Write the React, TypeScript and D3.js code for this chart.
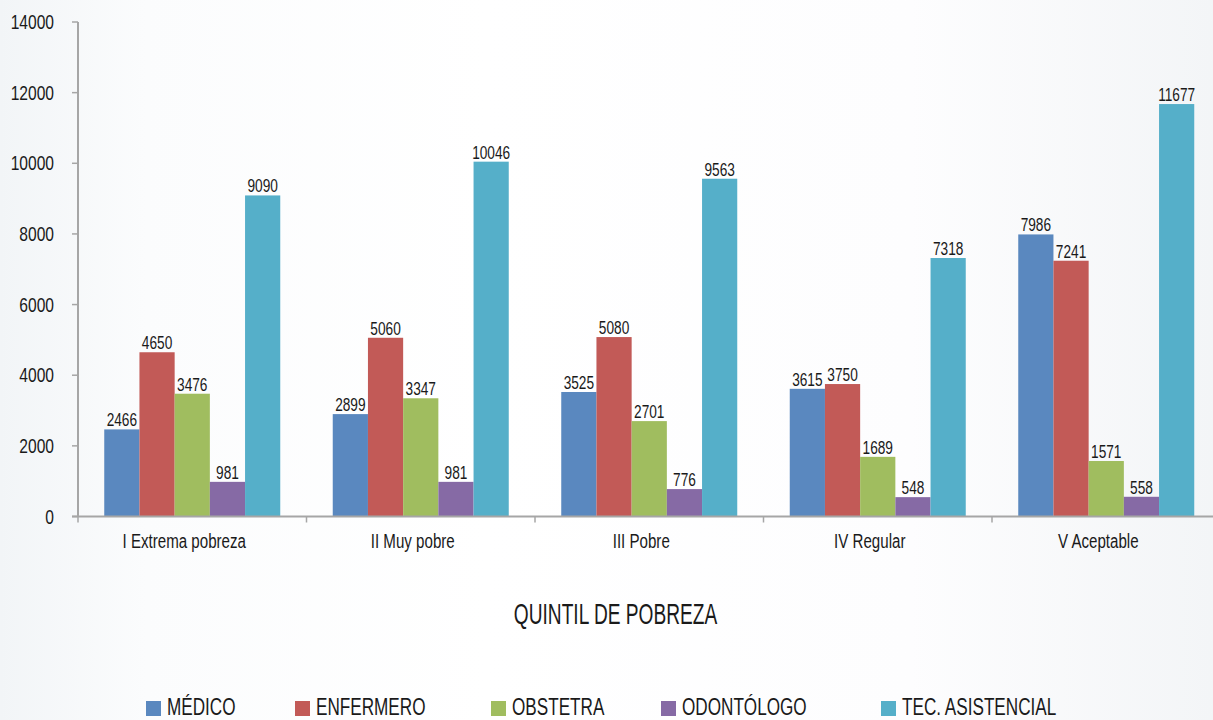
import React from "react";
import * as d3 from "d3";

const categories = ["I Extrema pobreza", "II Muy pobre", "III Pobre", "IV Regular", "V Aceptable"];
const seriesNames = ["MÉDICO", "ENFERMERO", "OBSTETRA", "ODONTÓLOGO", "TEC. ASISTENCIAL"];
const medico = [2466, 2899, 3525, 3615, 7986];
const enfermero = [4650, 5060, 5080, 3750, 7241];
const obstetra = [3476, 3347, 2701, 1689, 1571];
const odontologo = [981, 981, 776, 548, 558];
const tecAsistencial = [9090, 10046, 9563, 7318, 11677];
const yTicks = [0, 2000, 4000, 6000, 8000, 10000, 12000, 14000];
const colors = ["#5a88bf", "#c25a57", "#a0bd5f", "#866aa5", "#55afc9"];
const axisTitle = "QUINTIL DE POBREZA";

const series = [medico, enfermero, obstetra, odontologo, tecAsistencial];

const W = 1213;
const H = 720;
const FONT = "'Liberation Sans', Arial, sans-serif";

function NText({ x, y, sx, anchor = "start", size, children, dy }: any) {
  return (
    <text
      transform={`translate(${x},${y}) scale(${sx},1)`}
      textAnchor={anchor}
      fontSize={size}
      dy={dy}
      fill="#1a1a1a"
    >
      {children}
    </text>
  );
}

export default function App() {
  const x0 = 78;
  const bandW = 228.5;
  const x = d3.scaleBand<string>().domain(categories).range([x0, x0 + bandW * categories.length]).paddingInner(0).paddingOuter(0);
  const groupW = 176;
  const xInner = d3.scaleBand<string>().domain(seriesNames).range([0, groupW]).padding(0);
  const y = d3.scaleLinear().domain([0, 14000]).range([516.5, 22]);

  return (
    <div style={{ position: "fixed", left: 0, top: 0, width: W, height: H }}>
      <svg width={W} height={H} style={{ display: "block", fontFamily: FONT }}>
        <defs>
          <linearGradient id="bgh" x1="0" y1="0" x2="1" y2="0">
            <stop offset="0%" stopColor="#f2f5f7" />
            <stop offset="12%" stopColor="#fbfcfd" />
            <stop offset="40%" stopColor="#ffffff" />
            <stop offset="75%" stopColor="#fdfdfe" />
            <stop offset="100%" stopColor="#f3f5f7" />
          </linearGradient>
        </defs>
        <rect x={0} y={0} width={W} height={H} fill="url(#bgh)" />

        {/* y axis */}
        <line x1={x0} x2={x0} y1={y(14000)} y2={y(0)} stroke="#a6a6a6" strokeWidth={2} />
        {yTicks.map((t) => (
          <g key={t}>
            <line x1={72} x2={x0} y1={y(t)} y2={y(t)} stroke="#a6a6a6" strokeWidth={1.5} />
            <NText x={54} y={y(t)} dy="0.36em" anchor="end" size={20} sx={0.78}>
              {t}
            </NText>
          </g>
        ))}

        {/* bars */}
        {categories.map((c, ci) => {
          const gx = (x(c) as number) + (bandW - groupW) / 2;
          return (
            <g key={c}>
              {series.map((s, si) => {
                const bx = gx + (xInner(seriesNames[si]) as number);
                const bw = xInner.bandwidth();
                return (
                  <g key={si}>
                    <rect x={bx} y={y(s[ci])} width={bw} height={y(0) - y(s[ci])} fill={colors[si]} />
                    <NText x={bx + bw / 2} y={y(s[ci]) - 3} anchor="middle" size={18.5} sx={0.74}>
                      {s[ci]}
                    </NText>
                  </g>
                );
              })}
            </g>
          );
        })}

        {/* x axis */}
        <line x1={x0 - 6} x2={W} y1={y(0)} y2={y(0)} stroke="#a6a6a6" strokeWidth={2} />
        {categories.map((c, i) => (
          <line key={"t" + i} x1={(x(c) as number)} x2={(x(c) as number)} y1={y(0)} y2={y(0) + 6} stroke="#a6a6a6" strokeWidth={1.5} />
        ))}
        {categories.map((c) => (
          <NText key={"l" + c} x={(x(c) as number) + bandW / 2 - 8} y={548} anchor="middle" size={21} sx={0.72}>
            {c}
          </NText>
        ))}

        <NText x={615.5} y={624} anchor="middle" size={29} sx={0.66}>
          {axisTitle}
        </NText>

        {/* legend */}
        {seriesNames.map((n, i) => {
          const lx = [146, 295, 491, 661, 881][i];
          return (
            <g key={n}>
              <rect x={lx} y={701} width={15} height={15} fill={colors[i]} />
              <NText x={lx + 21} y={714.5} size={24.5} sx={0.7}>
                {n}
              </NText>
            </g>
          );
        })}
      </svg>
    </div>
  );
}
